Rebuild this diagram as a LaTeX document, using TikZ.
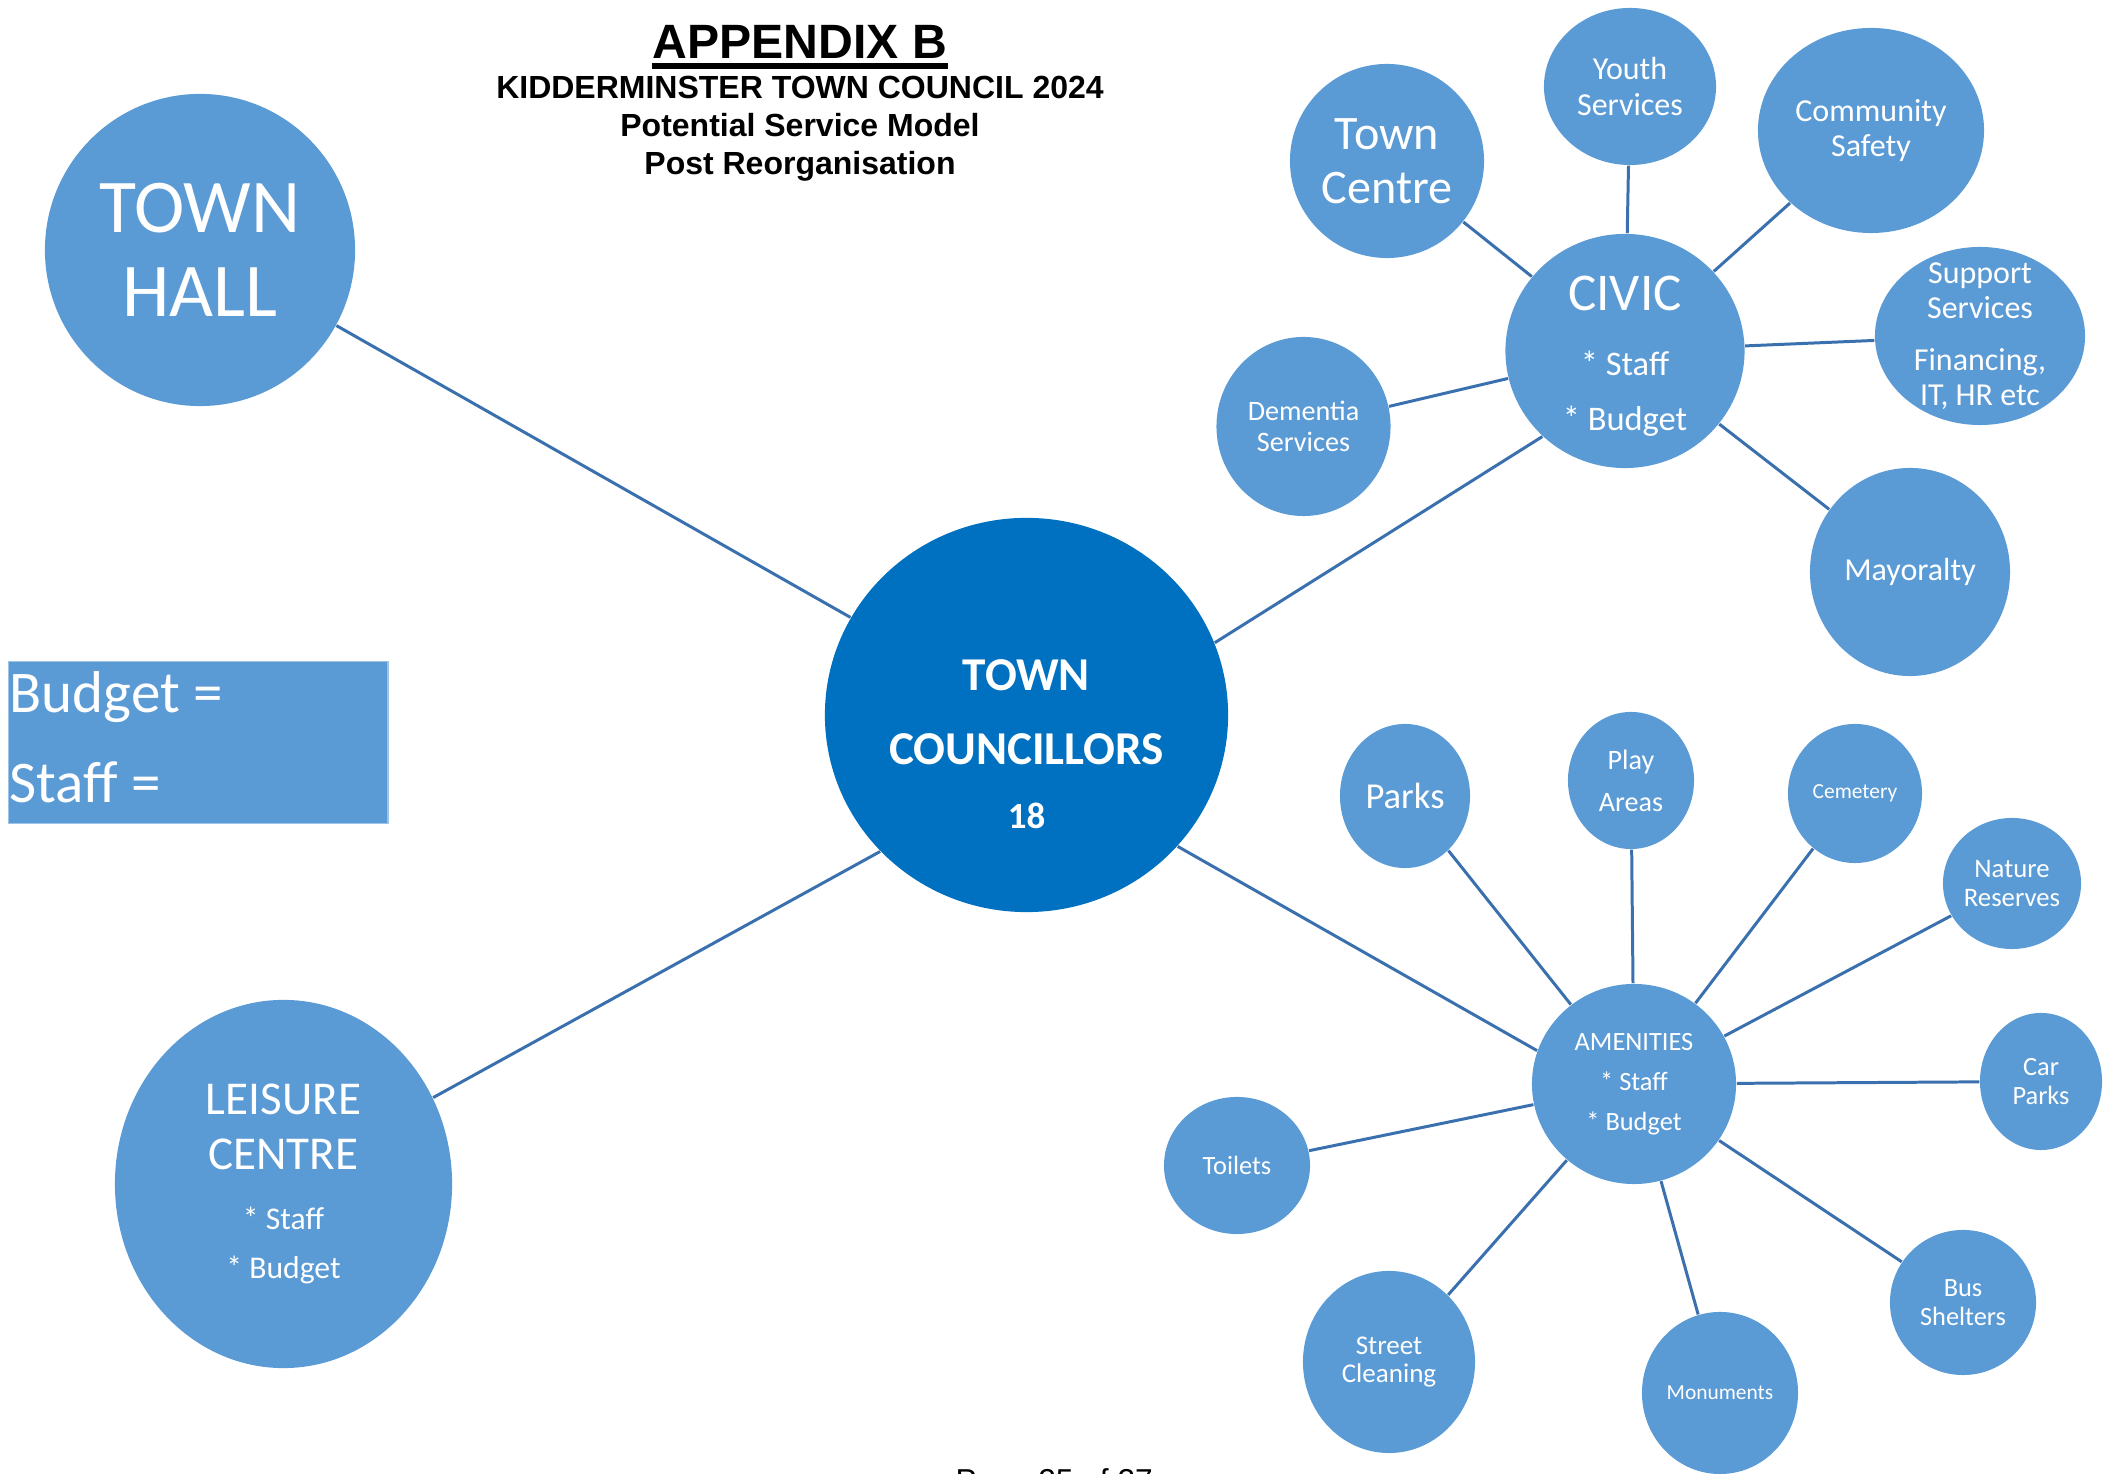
\documentclass[tikz,border=0pt]{standalone}
\usepackage{fontspec}
\setmainfont{Carlito}
\newfontfamily\arialfont{Liberation Sans}
\usetikzlibrary{shapes.geometric}
\definecolor{bubbleblue}{HTML}{5B9BD5}
\definecolor{hubblue}{HTML}{0070C0}
\definecolor{linkblue}{HTML}{3A70AE}
\definecolor{legendedge}{HTML}{9DC3E6}
\tikzset{
  bubble/.style={ellipse, fill=bubbleblue, text=white, align=center, inner sep=-5mm},
  hub/.style={bubble, fill=hubblue},
  dims/.style 2 args={minimum width=#1cm, minimum height=#2cm},
  heading/.style={font=\arialfont\bfseries\fontsize{9.1}{11}\selectfont, anchor=base, inner sep=0pt},
  legendtext/.style={font=\fontsize{16.8}{18}\selectfont, text=white, anchor=base west, inner sep=0pt},
  link/.style={draw=linkblue, line width=0.85pt},
}
\begin{document}
\begin{tikzpicture}[x=0.01cm, y=-0.01cm]
  \useasboundingbox (0,0) rectangle (2114,1474);
  \clip (0,0) rectangle (2114,1474);

  % heading
  \node[heading, font=\arialfont\bfseries\fontsize{13.7}{16}\selectfont] (appendix) at (800,59) {APPENDIX B};
  \draw[line width=1.7pt] ([yshift=-0.075cm]appendix.base west) -- ([yshift=-0.075cm]appendix.base east);
  \node[heading] (council) at (800,99) {KIDDERMINSTER TOWN COUNCIL 2024};
  \node[heading] (model) at (800,137) {Potential Service Model};
  \node[heading] (reorg) at (800,175) {Post Reorganisation};

  % main bubbles
  \node[hub, dims={4.03}{3.94}, font=\bfseries\fontsize{13.4}{21.1}\selectfont] (tc) at (1026.5,715)
    {\rule{0pt}{0.89cm}TOWN\\COUNCILLORS\\[-2.9pt]{\fontsize{10.5}{12}\selectfont 18}};
  \node[bubble, dims={3.10}{3.12}, font=\fontsize{21.6}{23.9}\selectfont] (townhall) at (200,250) {TOWN\\HALL};
  \node[bubble, dims={3.37}{3.68}, font=\fontsize{13.4}{15.4}\selectfont] (leisure) at (283.5,1184)
    {LEISURE\\CENTRE\\[1.7pt]{\fontsize{9}{11}\selectfont * Staff}\\[-1.5pt]{\fontsize{9}{11}\selectfont * Budget}};
  \node[bubble, dims={2.39}{2.34}, font=\fontsize{15.1}{15.4}\selectfont] (civic) at (1625,351)
    {\rule{0pt}{0.45cm}CIVIC\\[3.1pt]{\fontsize{9.8}{11}\selectfont * Staff}\\{\fontsize{9.8}{11}\selectfont * Budget}};
  \node[bubble, dims={2.04}{2.00}, font=\fontsize{7.5}{11.4}\selectfont] (amenities) at (1634,1084) {AMENITIES\\* Staff\\* Budget};

  % civic services
  \node[bubble, dims={1.94}{1.94}, font=\fontsize{13.7}{15.4}\selectfont] (towncentre) at (1387,161) {Town\\Centre};
  \node[bubble, dims={1.72}{1.57}, font=\fontsize{9.1}{10}\selectfont] (youth) at (1630,86.5) {Youth\\Services};
  \node[bubble, dims={2.26}{2.05}, font=\fontsize{9.1}{10}\selectfont] (community) at (1871,130.5) {Community\\Safety};
  \node[bubble, dims={2.10}{1.78}, font=\fontsize{9.1}{10}\selectfont] (support) at (1980,336)
    {Support\\Services\\[4.8pt]Financing,\\IT, HR etc};
  \node[bubble, dims={1.74}{1.79}, font=\fontsize{8}{8.8}\selectfont] (dementia) at (1303.5,426.5) {Dementia\\Services};
  \node[bubble, dims={2.00}{2.08}, font=\fontsize{9.1}{10}\selectfont] (mayoralty) at (1910,572) {Mayoralty};

  % amenities services
  \node[bubble, dims={1.30}{1.44}, font=\fontsize{10.4}{12}\selectfont] (parks) at (1405,796) {Parks};
  \node[bubble, dims={1.26}{1.37}, font=\fontsize{8}{12}\selectfont] (play) at (1631,780.5) {Play\\Areas};
  \node[bubble, dims={1.34}{1.39}, font=\fontsize{6.1}{7}\selectfont] (cemetery) at (1855,793.5) {Cemetery};
  \node[bubble, dims={1.38}{1.31}, font=\fontsize{7.6}{8.5}\selectfont] (nature) at (2012,883.5) {Nature\\Reserves};
  \node[bubble, dims={1.22}{1.37}, font=\fontsize{7.5}{8}\selectfont] (carparks) at (2041,1081.5) {Car\\Parks};
  \node[bubble, dims={1.46}{1.45}, font=\fontsize{7.5}{8.3}\selectfont] (bus) at (1963,1302.5) {Bus\\Shelters};
  \node[bubble, dims={1.56}{1.62}, font=\fontsize{6.1}{7}\selectfont] (monuments) at (1720,1393) {Monuments};
  \node[bubble, dims={1.72}{1.82}, font=\fontsize{7.7}{8}\selectfont] (street) at (1389,1362) {Street\\Cleaning};
  \node[bubble, dims={1.46}{1.37}, font=\fontsize{7.5}{8}\selectfont] (toilets) at (1237,1165.5) {Toilets};

  \begin{scope}[link]
    \draw (tc.151) to (townhall.331);
    \draw (tc.21.3) to (civic.226.7);
    \draw (tc.223.8) to (leisure.30.1);
    \draw (tc.319.5) to (amenities.161.5);
    \draw (civic) to (towncentre);
    \draw (civic) to (youth);
    \draw (civic) to (community);
    \draw (civic) to (support);
    \draw (civic) to (dementia);
    \draw (civic) to (mayoralty);
    \draw (amenities) to (parks);
    \draw (amenities) to (play);
    \draw (amenities) to (cemetery);
    \draw (amenities) to (nature);
    \draw (amenities) to (carparks);
    \draw (amenities) to (bus);
    \draw (amenities) to (monuments);
    \draw (amenities) to (street);
    \draw (amenities) to (toilets);
  \end{scope}

  % key
  \node[draw=legendedge, line width=0.4pt, fill=bubbleblue, minimum width=3.79cm, minimum height=1.62cm,
    inner sep=0pt, anchor=north west] (legend) at (8,661) {};
  \node[legendtext] (budget) at (9,713) {Budget =};
  \node[legendtext] (staff) at (9,803) {Staff =};

  \node[font=\arialfont\fontsize{9}{11}\selectfont, anchor=base west, inner sep=0pt] (page) at (955,1492) {Page 25 of 27};
\end{tikzpicture}
\end{document}
